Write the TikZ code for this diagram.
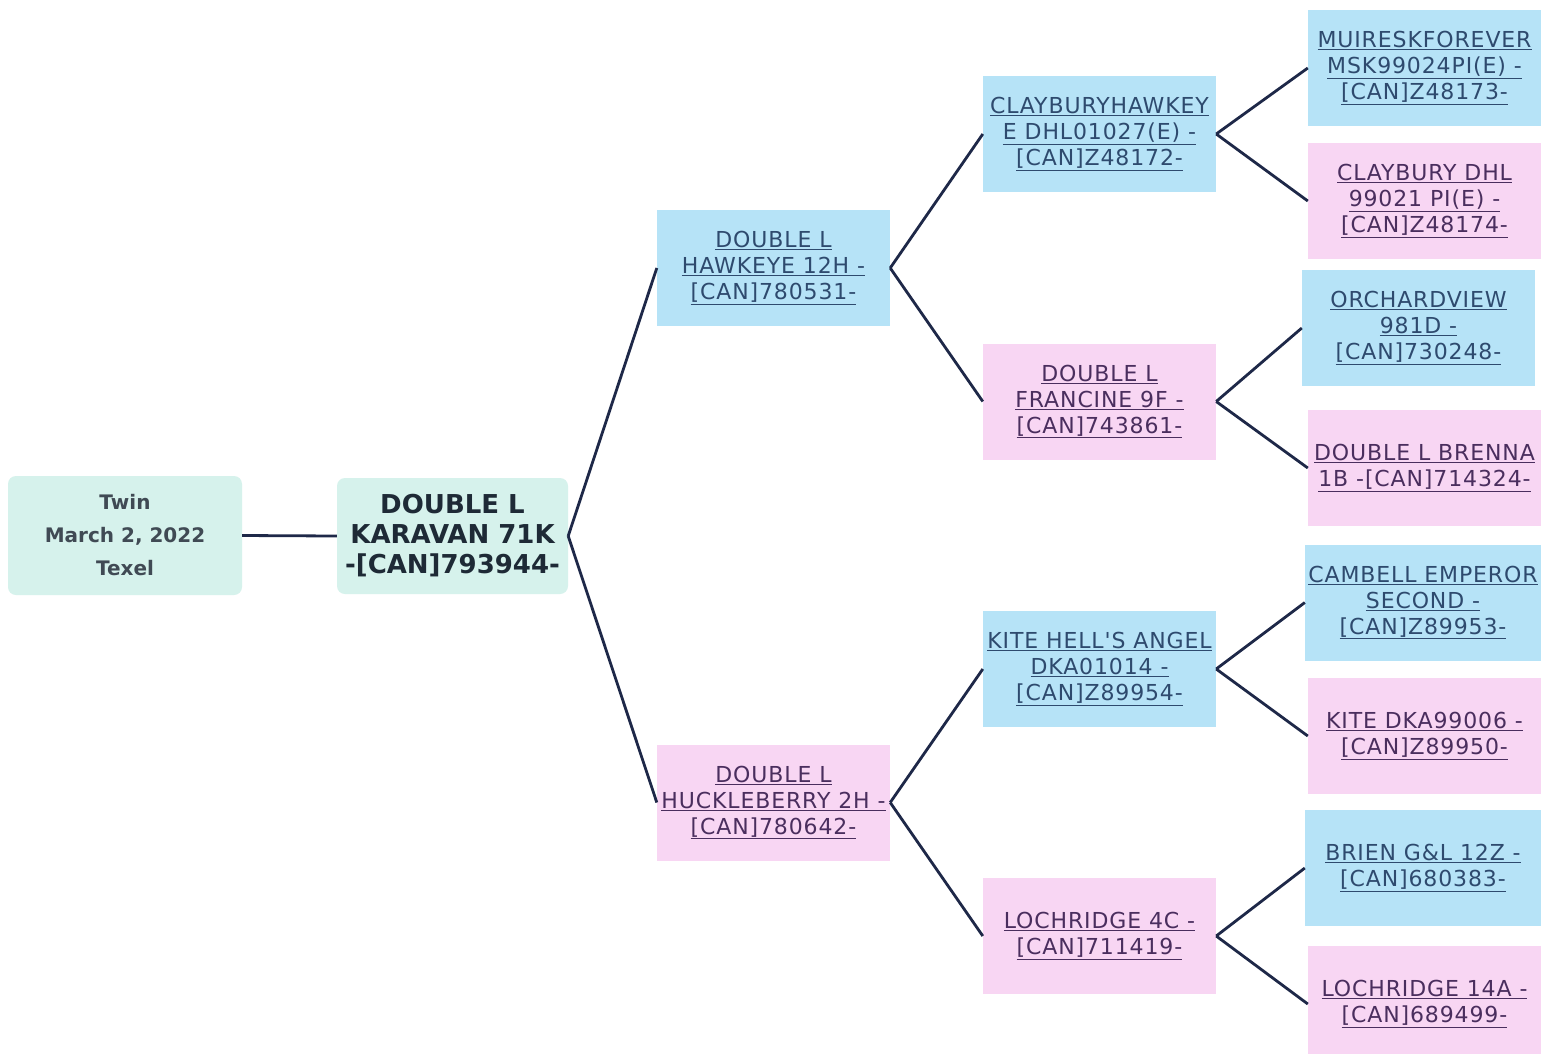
\documentclass[tikz,border=0pt]{standalone}
\usepackage{fontspec}
\setmainfont{DejaVu Sans}
\newfontfamily\lfont[LetterSpace=4]{DejaVu Sans}
\definecolor{mint}{HTML}{D6F2EC}
\definecolor{sky}{HTML}{B6E3F7}
\definecolor{rose}{HTML}{F8D6F3}
\definecolor{navy}{HTML}{1E2848}
\definecolor{bluetxt}{HTML}{2E4A6E}
\definecolor{pinktxt}{HTML}{4A2E5E}
\definecolor{darktxt}{HTML}{1E2A36}
\newcommand\ul[1]{\underline{#1}}
\tikzset{
  base/.style={inner sep=0pt, align=center, minimum width=233pt, minimum height=116pt},
  rootbox/.style={base, fill=mint, rounded corners=8pt, font=\bfseries\fontsize{20}{33}\selectfont, text=darktxt!85},
  mainbox/.style={base, fill=mint, rounded corners=8pt, minimum width=231pt, font=\bfseries\fontsize{26}{30}\selectfont, text=darktxt},
  sire/.style={base, fill=sky, text=bluetxt, font=\lfont\fontsize{22}{26}\selectfont},
  dam/.style={base, fill=rose, text=pinktxt, font=\lfont\fontsize{22}{26}\selectfont},
  link/.style={draw=navy, line width=2.8pt}
}
\begin{document}
\begin{tikzpicture}[x=1pt,y=-1pt]
\useasboundingbox (0,0) rectangle (1554,1053);
\fill[white] (0,0) rectangle (1554,1053);
% root and subject
\node[rootbox, minimum width=234pt, minimum height=119pt] (twin) at (125,535.5) {Twin\\March 2, 2022\\Texel};
\node[mainbox] (main) at (452.5,536) {DOUBLE L\\KARAVAN 71K\\-[CAN]793944-};
% generation 1
\node[sire] (hawk) at (773.5,268) {\ul{DOUBLE L}\\\ul{HAWKEYE 12H -}\\\ul{[CAN]780531-}};
\node[dam] (huck) at (773.5,802.5) {\ul{DOUBLE L}\\\ul{HUCKLEBERRY 2H -}\\\ul{[CAN]780642-}};
% generation 2
\node[sire] (clay) at (1099.5,134) {\ul{CLAYBURYHAWKEY}\\\ul{E DHL01027(E) -}\\\ul{[CAN]Z48172-}};
\node[dam] (fran) at (1099.5,401.5) {\ul{DOUBLE L}\\\ul{FRANCINE 9F -}\\\ul{[CAN]743861-}};
\node[sire] (kite) at (1099.5,669) {\ul{KITE HELL'S ANGEL}\\\ul{DKA01014 -}\\\ul{[CAN]Z89954-}};
\node[dam] (loch) at (1099.5,936) {\ul{LOCHRIDGE 4C -}\\\ul{[CAN]711419-}};
% generation 3
\node[sire] (muir) at (1424.5,68) {\ul{MUIRESKFOREVER}\\\ul{MSK99024PI(E) -}\\\ul{[CAN]Z48173-}};
\node[dam] (cdhl) at (1424.5,201) {\ul{CLAYBURY DHL}\\\ul{99021 PI(E) -}\\\ul{[CAN]Z48174-}};
\node[sire] (orch) at (1418.5,328) {\ul{ORCHARDVIEW}\\\ul{981D -}\\\ul{[CAN]730248-}};
\node[dam] (bren) at (1424.5,468) {\ul{DOUBLE L BRENNA}\\\ul{1B -[CAN]714324-}};
\node[sire, minimum width=236pt] (camb) at (1423,602.5) {\ul{CAMBELL EMPEROR}\\\ul{SECOND -}\\\ul{[CAN]Z89953-}};
\node[dam] (kdka) at (1424.5,736) {\ul{KITE DKA99006 -}\\\ul{[CAN]Z89950-}};
\node[sire, minimum width=236pt] (brien) at (1423,868) {\ul{BRIEN G\&L 12Z -}\\\ul{[CAN]680383-}};
\node[dam] (l14a) at (1424.5,1004) {\ul{LOCHRIDGE 14A -}\\\ul{[CAN]689499-}};
% connectors
\draw[link] (twin.east) -- (main.west);
\draw[link] (main.east) -- (hawk.west);
\draw[link] (main.east) -- (huck.west);
\draw[link] (hawk.east) -- (clay.west);
\draw[link] (hawk.east) -- (fran.west);
\draw[link] (huck.east) -- (kite.west);
\draw[link] (huck.east) -- (loch.west);
\draw[link] (clay.east) -- (muir.west);
\draw[link] (clay.east) -- (cdhl.west);
\draw[link] (fran.east) -- (orch.west);
\draw[link] (fran.east) -- (bren.west);
\draw[link] (kite.east) -- (camb.west);
\draw[link] (kite.east) -- (kdka.west);
\draw[link] (loch.east) -- (brien.west);
\draw[link] (loch.east) -- (l14a.west);
\end{tikzpicture}
\end{document}
